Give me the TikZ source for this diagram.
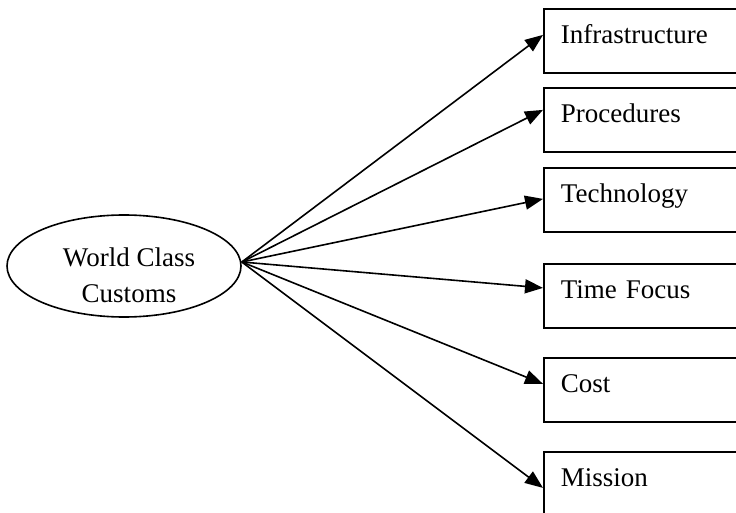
\documentclass[tikz,border=0pt]{standalone}
\usepackage{fontspec}
\setmainfont{Liberation Serif}
\usetikzlibrary{shapes.geometric,arrows.meta}
\begin{document}
\begin{tikzpicture}[x=1pt,y=-1pt,
  every node/.style={font=\fontsize{27}{36}\selectfont},
  itembox/.style={draw, line width=1.8pt, anchor=north west, minimum width=230pt,
    minimum height=64pt, text width=196pt, inner xsep=17pt, inner ysep=15pt,
    text height=20pt, text depth=14pt, align=left},
  arr/.style={line width=1.6pt, -{Triangle[length=18pt,width=14pt]}, shorten >=0pt}]
\useasboundingbox (0,0) rectangle (736,513);
\clip (0,0) rectangle (736,513);
\fill[white] (0,0) rectangle (736,513);
\node[draw, ellipse, line width=1.6pt, minimum width=234pt, minimum height=102pt, inner sep=0pt] (wc) at (124,266) {};
\node[align=center, inner sep=0pt] (wct) at (129,275) {World Class\\Customs};
\node[itembox] (b1) at (543,8) {Infrastructure};
\node[itembox] (b2) at (543,87) {Procedures};
\node[itembox] (b3) at (543,167) {Technology};
\node[itembox] (b4) at (543,263) {Time Focus};
\node[itembox] (b5) at (543,357) {Cost};
\node[itembox] (b6) at (543,451) {Mission};
\draw[arr] ([yshift=4pt]wc.east) -- ([yshift=6pt]b1.west);
\draw[arr] ([yshift=4pt]wc.east) -- ([yshift=10pt]b2.west);
\draw[arr] ([yshift=4pt]wc.east) -- ([yshift=1pt]b3.west);
\draw[arr] ([yshift=4pt]wc.east) -- ([yshift=8pt]b4.west);
\draw[arr] ([yshift=4pt]wc.east) -- ([yshift=6pt]b5.west);
\draw[arr] ([yshift=4pt]wc.east) -- ([yshift=-4pt]b6.west);
\end{tikzpicture}
\end{document}
